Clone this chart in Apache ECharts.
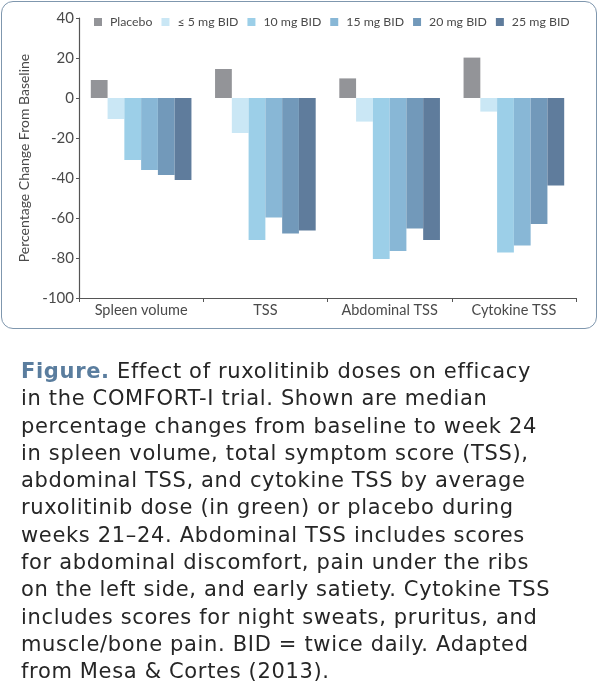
<!DOCTYPE html>
<html>
<head>
<meta charset="utf-8">
<script src="https://cdn.jsdelivr.net/npm/echarts@6/dist/echarts.min.js"></script>
<style>
  html, body { margin: 0; padding: 0; background: #fff; }
  #wrap { position: relative; width: 600px; height: 689px; overflow: hidden; }
  #box { position: absolute; left: 1px; top: 1px; width: 594px; height: 326px; border: 1.5px solid #7f97ae; border-radius: 12px; }
  #chart { position: absolute; left: 0; top: 0; width: 600px; height: 689px; }
  #caption { position: absolute; left: 21px; top: 358px; width: 579px; font-family: "DejaVu Sans", sans-serif; font-size: 21px; line-height: 27.3px; color: #262626; white-space: nowrap; font-variant-ligatures: none; }
  #caption b { color: #5a7d9e; font-weight: 700; }
</style>
</head>
<body>
<div id="wrap">
  <div id="box"></div>
  <div id="chart"></div>
  <div id="caption"><span id="line1"><b>Figure.</b> Effect of ruxolitinib doses on efficacy</span><br>in the COMFORT-I trial. Shown are median<br>percentage changes from baseline to week 24<br>in spleen volume, total symptom score (TSS),<br>abdominal TSS, and cytokine TSS by average<br>ruxolitinib dose (in green) or placebo during<br>weeks 21–24. Abdominal TSS includes scores<br>for abdominal discomfort, pain under the ribs<br>on the left side, and early satiety. Cytokine TSS<br>includes scores for night sweats, pruritus, and<br>muscle/bone pain. BID = twice daily. Adapted<br>from Mesa &amp; Cortes (2013).</div>
</div>
<script>
const categories = ["Spleen volume", "TSS", "Abdominal TSS", "Cytokine TSS"];
const seriesNames = ["Placebo", "\u2264 5 mg BID", "10 mg BID", "15 mg BID", "20 mg BID", "25 mg BID"];
const placebo = [9, 14.5, 9.8, 20.2];
const le5mg = [-10.5, -17.5, -11.8, -6.8];
const mg10 = [-31, -71, -80.5, -77.3];
const mg15 = [-36, -59.7, -76.5, -73.7];
const mg20 = [-38.5, -67.7, -65.2, -63];
const mg25 = [-41, -66.2, -71, -43.7];
const yTicks = { min: -100, max: 40, interval: 20 };
const colors = ["#939498", "#cae7f5", "#9ccfe8", "#88b7d6", "#7299ba", "#5f7c9c"];

// fit caption spacing so the first line spans like the reference
(function () {
  const l1 = document.getElementById('line1');
  const w = l1.getBoundingClientRect().width;
  const n = l1.textContent.length;
  const target = 510;
  const ls = Math.max(0, (target - w) / n);
  document.getElementById('caption').style.letterSpacing = ls.toFixed(2) + 'px';
})();

const values = [placebo, le5mg, mg10, mg15, mg20, mg25];
const chart = echarts.init(document.getElementById('chart'), null, { renderer: 'canvas' });
const textColor = '#4a4a4a';
chart.setOption({
  animation: false,
  color: colors,
  textStyle: { fontFamily: 'Lato' },
  legend: {
    top: 11, left: 89, width: 520,
    itemWidth: 8, itemHeight: 8, itemGap: 9,
    icon: 'rect',
    textStyle: { fontSize: 12.3, color: textColor, fontFamily: 'Lato', padding: [0, 0, 0, 3] },
    data: seriesNames
  },
  grid: { left: 79, right: 24, top: 18, bottom: 391, containLabel: false },
  xAxis: [
    {
      type: 'category', data: categories, position: 'bottom',
      axisLine: { show: false }, axisTick: { show: false },
      axisLabel: { fontSize: 14.5, color: textColor, margin: 5, interval: 0 }
    },
    {
      type: 'category', data: categories, position: 'bottom',
      axisLine: { onZero: true, lineStyle: { color: '#555', width: 1.2 } },
      axisTick: { show: true, length: 4, lineStyle: { color: '#555' } },
      axisLabel: { show: false }
    }
  ],
  yAxis: {
    type: 'value', min: yTicks.min, max: yTicks.max, interval: yTicks.interval,
    name: 'Percentage Change From Baseline', nameLocation: 'middle', nameGap: 43,
    nameTextStyle: { fontSize: 14, color: textColor },
    axisLine: { show: true, lineStyle: { color: '#555', width: 1.2 } },
    axisTick: { show: true, length: 3, lineStyle: { color: '#555' } },
    axisLabel: { fontSize: 15, color: textColor, margin: 5 },
    splitLine: { show: false }
  },
  series: seriesNames.map((n, i) => ({
    name: n, type: 'bar', xAxisIndex: 0, data: values[i],
    barGap: '0%', barCategoryGap: '19%',
    itemStyle: { color: colors[i] }
  }))
});
</script>
</body>
</html>
